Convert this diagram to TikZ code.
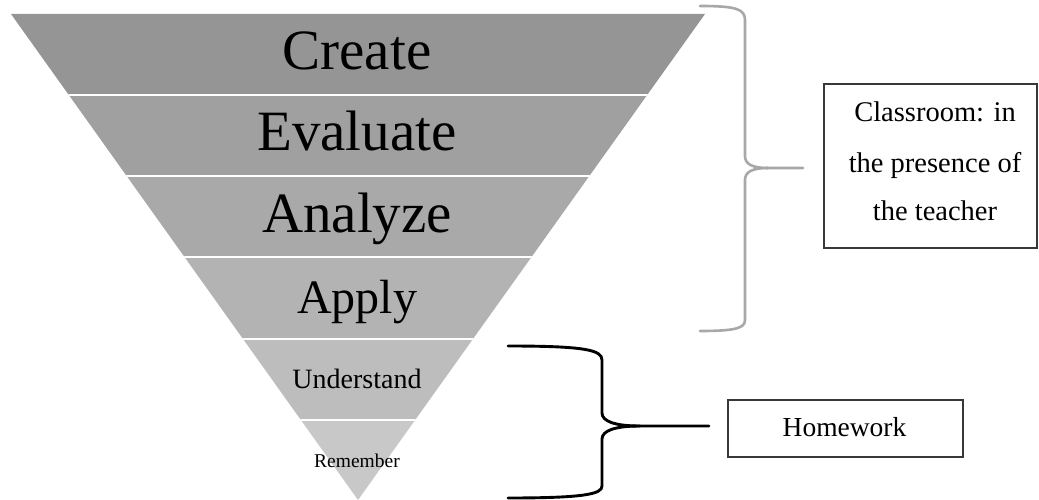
\documentclass[tikz,border=0pt]{standalone}
\usepackage{fontspec}
\setmainfont{Liberation Serif}
\definecolor{toneA}{HTML}{959595}
\definecolor{toneB}{HTML}{A0A0A0}
\definecolor{toneC}{HTML}{A9A9A9}
\definecolor{toneD}{HTML}{B3B3B3}
\definecolor{toneE}{HTML}{BDBDBD}
\definecolor{toneF}{HTML}{C8C8C8}
\definecolor{bracegray}{HTML}{A8A8A8}
\definecolor{boxline}{HTML}{383838}
\begin{document}
\begin{tikzpicture}[x=1pt,y=-1pt,
  lvl/.style={anchor=base, inner sep=0pt, text=black},
  sep/.style={white, line width=2.4pt},
  boxnode/.style={draw=boxline, line width=1.4pt, inner sep=0pt},
  bracepath/.style={line width=2.6pt, line cap=round, line join=round},
  huge57/.style={font=\fontsize{57}{60}\selectfont}]
\useasboundingbox (0,0) rectangle (1039,500);

% inverted pyramid, one band per level
\coordinate (TL) at (11,14);
\coordinate (TR) at (705,14);
\coordinate (AP) at (358,500);
\begin{scope}
  \clip (TL) -- (TR) -- (AP) -- cycle;
  \fill[toneA] (0,0)   rectangle (720,95);
  \fill[toneB] (0,95)  rectangle (720,176);
  \fill[toneC] (0,176) rectangle (720,257);
  \fill[toneD] (0,257) rectangle (720,339);
  \fill[toneE] (0,339) rectangle (720,420);
  \fill[toneF] (0,420) rectangle (720,505);
  \foreach \yy in {95,176,257,339,420}
    \draw[sep] (0,\yy) -- (720,\yy);
\end{scope}

% level labels
\node[lvl, huge57] (create)   at (357,70)  {Create};
\node[lvl, huge57] (evaluate) at (357,150) {Evaluate};
\node[lvl, huge57] (analyze)  at (357,232) {Analyze};
\node[lvl, font=\fontsize{48}{52}\selectfont] (apply) at (357,313) {Apply};
\node[lvl, font=\fontsize{28}{32}\selectfont] (understand) at (357,388) {Understand};
\node[lvl, font=\fontsize{19.5}{22}\selectfont] (remember) at (357,467) {Remember};

% classroom box
\node[boxnode, minimum width=213pt, minimum height=164pt] (classroom) at (930.5,166) {};
\node[lvl, font=\fontsize{28.5}{32}\selectfont] (cl1) at (935,122) {Classroom: in};
\node[lvl, font=\fontsize{28.5}{32}\selectfont] (cl2) at (935,172) {the presence of};
\node[lvl, font=\fontsize{28.5}{32}\selectfont] (cl3) at (935,220) {the teacher};

% homework box
\node[boxnode, minimum width=235pt, minimum height=57pt] (homework) at (845.5,428.5) {};
\node[lvl, font=\fontsize{27.5}{30}\selectfont] (hw) at (844.5,436) {Homework};

% gray brace for the upper four levels
\coordinate (gtip) at (768,168);
\coordinate (gend) at (803,168);
\draw[bracepath, draw=bracegray]
  (700,6) .. controls (736,6) and (745,9) .. (745,20) -- (745,156)
  .. controls (745,164) and (752,168) .. (gtip) -- (gend);
\draw[bracepath, draw=bracegray]
  (gtip) .. controls (752,168) and (745,172) .. (745,180) -- (745,320)
  .. controls (745,328) and (736,331) .. (700,331);

% black brace for the lower two levels
\coordinate (btip) at (640,426);
\coordinate (bend) at (709,426);
\draw[bracepath, line width=2.9pt, draw=black]
  (508,346) .. controls (585,346) and (602,350) .. (602,360) -- (602,413)
  .. controls (602,421) and (614,426) .. (btip) -- (bend);
\draw[bracepath, line width=2.9pt, draw=black]
  (btip) .. controls (614,426) and (602,431) .. (602,439) -- (602,486)
  .. controls (602,494) and (585,498) .. (508,498);
\end{tikzpicture}
\end{document}
